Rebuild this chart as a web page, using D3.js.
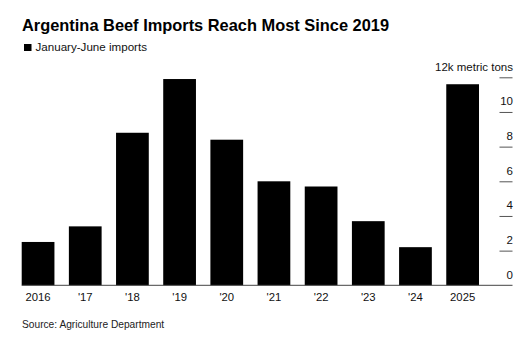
<!DOCTYPE html>
<html>
<head>
<meta charset="utf-8">
<script src="https://cdn.jsdelivr.net/npm/d3@7/dist/d3.min.js"></script>
<style>
  html, body { margin: 0; padding: 0; background: #fff; }
  svg { display: block; font-family: "Liberation Sans", Arial, sans-serif; }
</style>
</head>
<body>
<svg id="chart" width="532" height="340"></svg>
<script>
// January–June beef imports, thousand metric tons
const years = ["2016", "'17", "'18", "'19", "'20", "'21", "'22", "'23", "'24", "2025"];
const imports = [2.5, 3.4, 8.8, 11.9, 8.4, 6.0, 5.7, 3.7, 2.2, 11.6];
const tickValues = [0, 2, 4, 6, 8, 10, 12];
const tickLabels = ["0", "2", "4", "6", "8", "10", "12k metric tons"];

const svg = d3.select("#chart");
const ink = "#000";

const x = d3.scaleBand()
  .domain(years)
  .range([21.7, 479])
  .paddingInner(0.306)
  .paddingOuter(0);

const y = d3.scaleLinear()
  .domain([0, 12])
  .range([285.3, 77.3]);

// Title and legend
svg.append("text")
  .attr("x", 22).attr("y", 31)
  .attr("font-size", 16.4).attr("font-weight", "bold")
  .attr("fill", ink)
  .text("Argentina Beef Imports Reach Most Since 2019");

svg.append("rect")
  .attr("x", 24).attr("y", 44).attr("width", 7.5).attr("height", 7)
  .attr("fill", ink);
svg.append("text")
  .attr("x", 35.5).attr("y", 50.5)
  .attr("font-size", 11.6).attr("fill", "#111")
  .text("January-June imports");

// Bars
svg.append("g")
  .selectAll("rect")
  .data(years.map((d, i) => ({ year: d, value: imports[i] })))
  .join("rect")
  .attr("x", d => x(d.year))
  .attr("width", x.bandwidth())
  .attr("y", d => y(d.value))
  .attr("height", d => y(0) - y(d.value))
  .attr("fill", ink);

// Right-hand value axis: short ticks with labels sitting above them
const yAxis = d3.axisRight(y)
  .tickValues(tickValues.slice(1))
  .tickSize(13)
  .tickFormat(() => "");
const gy = svg.append("g")
  .attr("transform", "translate(499.5,0)")
  .call(yAxis);
gy.select(".domain").remove();
gy.selectAll(".tick line").attr("stroke", "#555").attr("stroke-width", 1);

svg.append("g")
  .selectAll("text")
  .data(tickValues)
  .join("text")
  .attr("x", 513)
  .attr("y", d => y(d) - 6.5)
  .attr("text-anchor", "end")
  .attr("font-size", 11.5)
  .attr("fill", "#111")
  .text((d, i) => tickLabels[i]);

// Baseline
svg.append("line")
  .attr("x1", 21.7).attr("x2", 512.5)
  .attr("y1", y(0)).attr("y2", y(0))
  .attr("stroke", "#444").attr("stroke-width", 1);

// Category axis
const xAxis = d3.axisBottom(x).tickSize(0).tickPadding(0);
const gx = svg.append("g")
  .attr("transform", `translate(0,${y(0)})`)
  .call(xAxis);
gx.select(".domain").remove();
gx.selectAll(".tick text")
  .attr("dy", null)
  .attr("y", 16)
  .attr("font-size", 11.3)
  .attr("font-family", "Liberation Sans, Arial, sans-serif")
  .attr("fill", "#111");

// Source note
svg.append("text")
  .attr("x", 22).attr("y", 328)
  .attr("font-size", 10.2).attr("fill", "#222")
  .text("Source: Agriculture Department");
</script>
</body>
</html>
